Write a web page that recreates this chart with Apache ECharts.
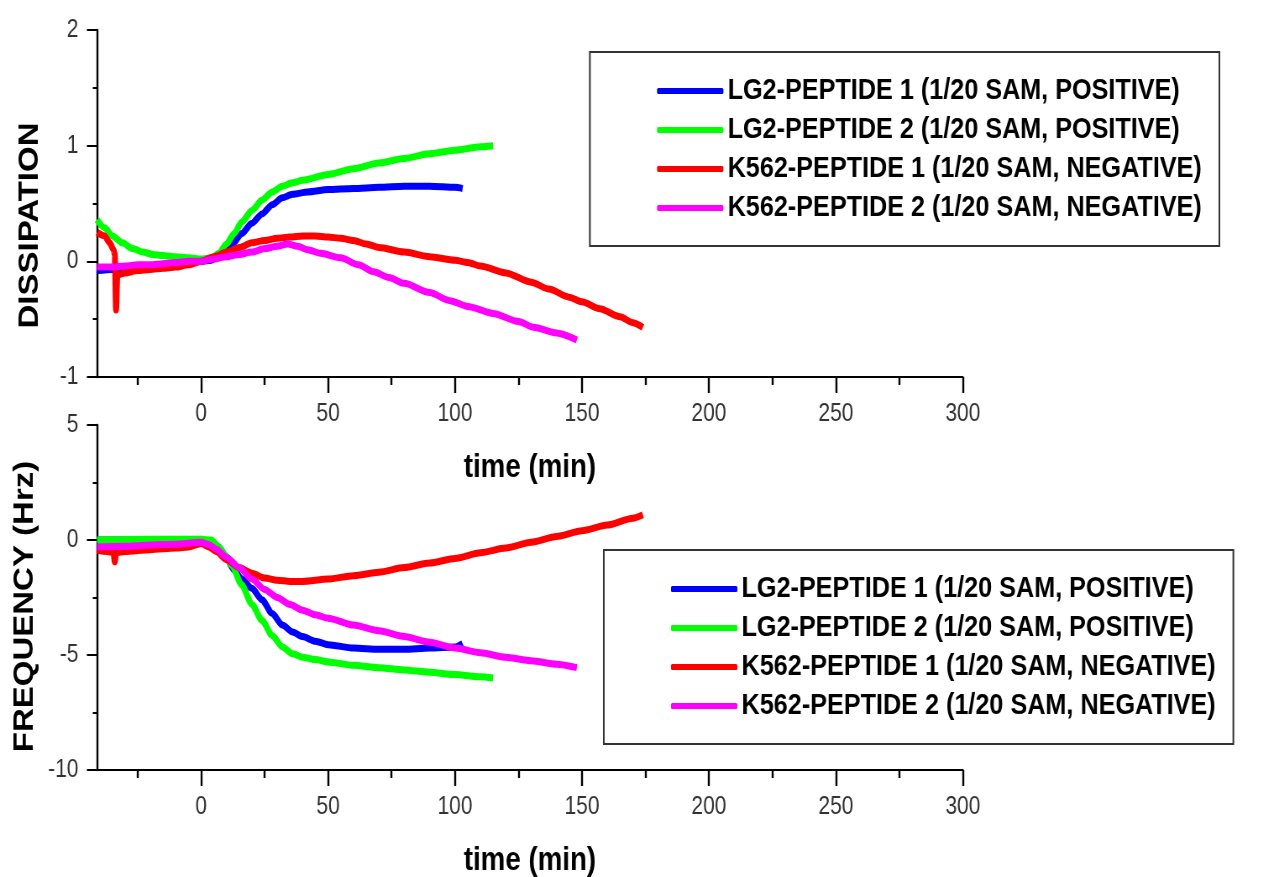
<!DOCTYPE html>
<html>
<head>
<meta charset="utf-8">
<script src="https://cdn.jsdelivr.net/npm/echarts@6/dist/echarts.min.js"></script>
<style>
  html, body { margin: 0; padding: 0; background: #fff; overflow: hidden; }
  /* the figure is laid out wide and squeezed horizontally, giving its condensed lettering */
  #chart { width: 1523px; height: 877px; transform: scaleX(0.8398); transform-origin: 0 0; }
</style>
</head>
<body>
<div id="chart"></div>
<script>
// QCM-D traces: dissipation (upper panel) and frequency shift (lower panel) vs time
const seriesNames = [
  'LG2-PEPTIDE 1 (1/20 SAM, POSITIVE)',
  'LG2-PEPTIDE 2 (1/20 SAM, POSITIVE)',
  'K562-PEPTIDE 1 (1/20 SAM, NEGATIVE)',
  'K562-PEPTIDE 2 (1/20 SAM, NEGATIVE)'
];
const seriesColors = ['#0000ff', '#00ff00', '#ff0000', '#ff00ff'];

const majorTimeTicks = [0, 50, 100, 150, 200, 250, 300];
const minorTimeTicks = [-25, 25, 75, 125, 175, 225, 275];

// Dissipation [time (min), value]
const dissLG2P1 = [[-41,-0.08],[-35,-0.07],[-30,-0.06],[-25,-0.05],[-20,-0.04],[-15,-0.03],[-10,-0.02],[-5,-0.01],[0,0],[4,0.01],[8,0.06],[12,0.14],[16,0.24],[20,0.33],[24,0.41],[28,0.49],[32,0.55],[36,0.58],[42,0.6],[50,0.62],[60,0.63],[70,0.64],[80,0.65],[90,0.65],[100,0.64],[103,0.63]];
const dissLG2P2 = [[-41,0.36],[-38,0.29],[-35,0.22],[-31,0.16],[-27,0.11],[-23,0.08],[-19,0.06],[-15,0.05],[-10,0.04],[-5,0.03],[0,0.02],[4,0.03],[7,0.07],[10,0.15],[13,0.24],[16,0.34],[20,0.44],[24,0.53],[28,0.6],[32,0.65],[36,0.68],[40,0.7],[50,0.75],[60,0.8],[70,0.85],[80,0.89],[90,0.93],[100,0.96],[110,0.99],[115,1.0]];
const dissK562P1 = [[-41,0.25],[-38,0.22],[-36,0.16],[-34.5,0.1],[-34,0.06],[-33.5,-0.42],[-33,-0.12],[-30,-0.1],[-25,-0.08],[-20,-0.07],[-15,-0.06],[-10,-0.05],[-5,-0.03],[0,0],[5,0.04],[10,0.08],[15,0.12],[20,0.16],[25,0.18],[30,0.2],[35,0.21],[40,0.22],[45,0.22],[50,0.21],[55,0.2],[60,0.18],[65,0.15],[70,0.12],[80,0.08],[90,0.04],[100,0.01],[105,-0.01],[110,-0.04],[120,-0.1],[130,-0.18],[137,-0.24],[145,-0.31],[150,-0.35],[157,-0.41],[165,-0.48],[170,-0.53],[174,-0.57]];
const dissK562P2 = [[-41,-0.05],[-35,-0.05],[-30,-0.04],[-25,-0.03],[-20,-0.03],[-15,-0.02],[-10,-0.01],[-5,0],[0,0],[5,0.02],[10,0.04],[15,0.06],[20,0.08],[25,0.11],[30,0.13],[34,0.15],[38,0.13],[42,0.1],[47,0.07],[55,0.03],[62,-0.03],[68,-0.09],[74,-0.14],[80,-0.19],[90,-0.27],[98,-0.34],[105,-0.39],[115,-0.45],[125,-0.52],[131,-0.57],[140,-0.62],[148,-0.68]];

// Frequency shift (Hz) [time (min), value]
const freqLG2P1 = [[-41,0],[-30,0],[-20,0],[-10,0],[0,0],[4,-0.05],[7,-0.3],[10,-0.8],[13,-1.3],[16,-1.7],[20,-2.1],[24,-2.6],[28,-3.2],[32,-3.7],[36,-4.0],[40,-4.2],[45,-4.4],[50,-4.55],[60,-4.7],[70,-4.75],[80,-4.75],[90,-4.7],[100,-4.65],[103,-4.5]];
const freqLG2P2 = [[-41,0],[-30,0.02],[-20,0.03],[-10,0.03],[0,0.03],[4,0],[7,-0.3],[10,-0.7],[12,-1.1],[16,-1.95],[20,-2.8],[24,-3.5],[28,-4.15],[32,-4.65],[36,-4.95],[40,-5.1],[45,-5.2],[50,-5.3],[60,-5.45],[70,-5.55],[80,-5.65],[90,-5.75],[100,-5.85],[110,-5.95],[115,-6.0]];
const freqK562P1 = [[-41,-0.45],[-37,-0.5],[-34.5,-0.55],[-34,-0.95],[-33.5,-0.55],[-30,-0.5],[-20,-0.42],[-10,-0.35],[-5,-0.3],[0,-0.15],[3,-0.3],[6,-0.5],[10,-0.85],[15,-1.2],[20,-1.45],[25,-1.65],[30,-1.75],[35,-1.8],[40,-1.8],[50,-1.7],[60,-1.55],[70,-1.4],[80,-1.2],[90,-1.0],[100,-0.8],[110,-0.55],[120,-0.35],[130,-0.1],[140,0.15],[150,0.4],[160,0.65],[170,0.95],[174,1.1]];
const freqK562P2 = [[-41,-0.3],[-30,-0.27],[-20,-0.22],[-10,-0.18],[0,-0.1],[3,-0.2],[6,-0.4],[10,-0.75],[15,-1.2],[20,-1.7],[25,-2.15],[30,-2.5],[35,-2.8],[40,-3.05],[45,-3.25],[50,-3.4],[60,-3.7],[70,-3.95],[80,-4.2],[90,-4.45],[100,-4.7],[110,-4.9],[120,-5.1],[130,-5.25],[140,-5.4],[148,-5.55]];

const dissData = [dissLG2P1, dissLG2P2, dissK562P1, dissK562P2];
const freqData = [freqLG2P1, freqLG2P2, freqK562P1, freqK562P2];

const SANS = '"Liberation Sans", Arial, sans-serif';

function timeAxis(gridIndex) {
  return {
    type: 'value', gridIndex, min: -41, max: 300, position: 'bottom',
    axisLine: { show: true, onZero: false, lineStyle: { color: '#000', width: 2 } },
    axisTick: { show: true, customValues: majorTimeTicks, length: 16, lineStyle: { color: '#000', width: 2.4 } },
    axisLabel: { customValues: majorTimeTicks, margin: 25, fontSize: 25, fontFamily: SANS, color: '#333' },
    splitLine: { show: false },
    name: 'time (min)', nameLocation: 'middle', nameGap: 74,
    nameTextStyle: { fontSize: 33, fontWeight: 'bold', fontFamily: SANS, color: '#000' }
  };
}
function minorTimeAxis(gridIndex) {
  return {
    type: 'value', gridIndex, min: -41, max: 300, position: 'bottom',
    axisLine: { show: false, onZero: false },
    axisTick: { show: true, customValues: minorTimeTicks, length: 8, lineStyle: { color: '#000', width: 2.4 } },
    axisLabel: { show: false },
    splitLine: { show: false }
  };
}
function valueAxis(gridIndex, min, max, interval, name, shift) {
  return {
    type: 'value', gridIndex, min, max, interval,
    axisLine: { show: true, onZero: false, lineStyle: { color: '#000', width: 2.4 } },
    axisTick: { show: true, length: 12, lineStyle: { color: '#000', width: 2 } },
    minorTick: { show: true, splitNumber: 2, length: 5, lineStyle: { color: '#000', width: 2 } },
    axisLabel: { margin: 22, fontSize: 25, fontFamily: SANS, color: '#333' },
    splitLine: { show: false },
    name, nameLocation: 'middle', nameGap: 63, nameRotate: 90,
    nameTextStyle: { fontSize: 33, fontWeight: 'bold', fontFamily: SANS, color: '#000', padding: [0, shift * 2, 0, 0] }
  };
}
function legendBox(left, top) {
  return {
    orient: 'vertical', left, top, padding: [24, 21, 23, 80],
    data: seriesNames,
    icon: 'roundRect', itemWidth: 79, itemHeight: 6, itemGap: 9,
    borderColor: '#333', borderWidth: 2, borderRadius: 0,
    textStyle: { fontSize: 30, fontWeight: 'bold', fontFamily: SANS, color: '#000', lineHeight: 30 }
  };
}

const series = [];
dissData.forEach((d, i) => series.push({
  name: seriesNames[i], type: 'line', xAxisIndex: 0, yAxisIndex: 0, data: d,
  showSymbol: false, smooth: 0.25, smoothMonotone: 'x', color: seriesColors[i],
  lineStyle: { width: 7, color: seriesColors[i] }, z: i === 3 ? 3 : 2
}));
freqData.forEach((d, i) => series.push({
  name: seriesNames[i], type: 'line', xAxisIndex: 2, yAxisIndex: 1, data: d,
  showSymbol: false, smooth: 0.25, smoothMonotone: 'x', color: seriesColors[i],
  lineStyle: { width: 7, color: seriesColors[i] }, z: 2
}));

const chart = echarts.init(document.getElementById('chart'), null, { renderer: 'canvas' });
chart.setOption({
  animation: false,
  backgroundColor: '#fff',
  grid: [
    { left: 115.5, top: 30, width: 1031, height: 347, outerBoundsMode: 'none' },
    { left: 115.5, top: 425, width: 1031, height: 345, outerBoundsMode: 'none' }
  ],
  xAxis: [timeAxis(0), minorTimeAxis(0), timeAxis(1), minorTimeAxis(1)],
  yAxis: [
    valueAxis(0, -1, 2, 1, 'DISSIPATION', 22),
    valueAxis(1, -10, 5, 5, 'FREQUENCY (Hrz)', 9)
  ],
  legend: [
    legendBox(702.4, 52),
    legendBox(719.0, 550)
  ],
  series
});
</script>
</body>
</html>
